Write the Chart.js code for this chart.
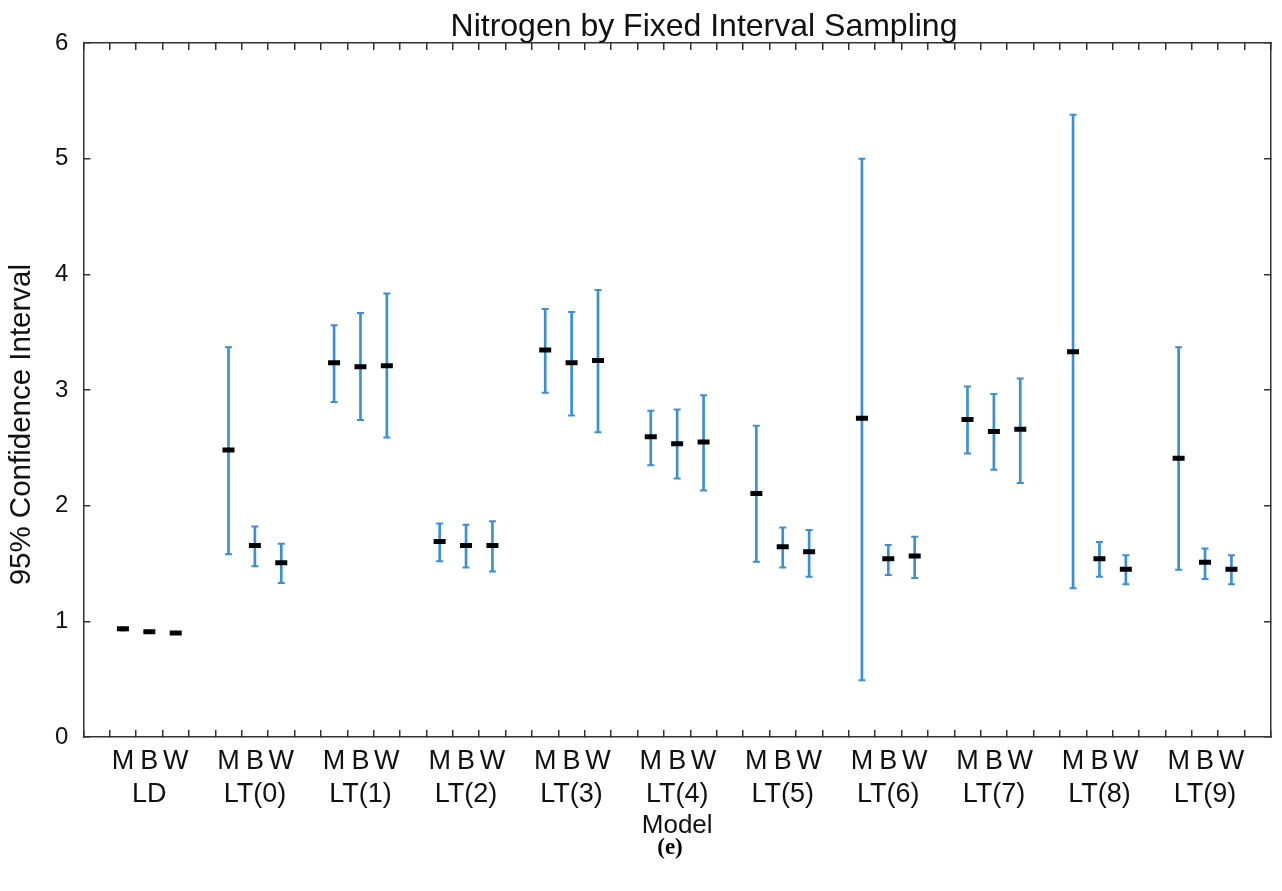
<!DOCTYPE html>
<html>
<head>
<meta charset="utf-8">
<script src="https://cdn.jsdelivr.net/npm/chart.js@4.4.1/dist/chart.umd.min.js"></script>
<style>
  body { margin: 0; background: #fff; }
  #wrap { width: 1282px; height: 891px; }
</style>
</head>
<body>
<div id="wrap"><canvas id="grafico"></canvas></div>
<script>
// grupos del eje x y modelos dentro de cada grupo
const grupos = ['LD', 'LT(0)', 'LT(1)', 'LT(2)', 'LT(3)', 'LT(4)', 'LT(5)', 'LT(6)', 'LT(7)', 'LT(8)', 'LT(9)'];
const modelos = ['M', 'B', 'W'];

// media e intervalo de confianza 95% por modelo
const mediaM = [0.935, 2.48, 3.235, 1.69, 3.345, 2.595, 2.105, 2.755, 2.745, 3.33, 2.41];
const bajoM  = [0.92, 1.58, 2.895, 1.52, 2.975, 2.35, 1.515, 0.49, 2.45, 1.285, 1.445];
const altoM  = [0.945, 3.37, 3.56, 1.845, 3.70, 2.82, 2.69, 5.0, 3.03, 5.38, 3.37];

const mediaB = [0.91, 1.655, 3.20, 1.655, 3.235, 2.535, 1.645, 1.54, 2.64, 1.54, 1.51];
const bajoB  = [0.905, 1.475, 2.74, 1.465, 2.78, 2.235, 1.465, 1.40, 2.31, 1.385, 1.365];
const altoB  = [0.915, 1.82, 3.665, 1.835, 3.675, 2.83, 1.81, 1.66, 2.965, 1.685, 1.63];

const mediaW = [0.898, 1.505, 3.21, 1.655, 3.255, 2.55, 1.60, 1.565, 2.66, 1.45, 1.45];
const bajoW  = [0.893, 1.33, 2.59, 1.43, 2.635, 2.13, 1.385, 1.375, 2.195, 1.32, 1.32];
const altoW  = [0.903, 1.67, 3.835, 1.865, 3.865, 2.955, 1.79, 1.73, 3.10, 1.57, 1.57];

const yTicks = [0, 1, 2, 3, 4, 5, 6];

const azul = '#3a8fd6';
const gris = '#333';
const fuente = "'Liberation Sans', Arial, sans-serif";

// posicion en el eje: 4 huecos por grupo (M, B, W, espacio)
const posicion = (g, m) => g * 4 + m + 1;

const series = [
    { media: mediaM, bajo: bajoM, alto: altoM },
    { media: mediaB, bajo: bajoB, alto: altoB },
    { media: mediaW, bajo: bajoW, alto: altoW }
];

const barras = [];
const topes = [];
const medias = [];
series.forEach((s, m) => {
    grupos.forEach((g, i) => {
        const x = posicion(i, m);
        barras.push({ x: x, y: [s.bajo[i], s.alto[i]] });
        topes.push({ x: x, y: s.bajo[i] });
        topes.push({ x: x, y: s.alto[i] });
        medias.push({ x: x, y: s.media[i] });
    });
});

// titulos dibujados a mano para ubicarlos como en la figura
const titulos = {
    id: 'titulos',
    afterDraw(chart) {
        const ctx = chart.ctx;
        const area = chart.chartArea;
        ctx.save();
        ctx.fillStyle = '#111';
        ctx.textAlign = 'center';
        ctx.textBaseline = 'middle';
        ctx.font = '32px ' + fuente;
        ctx.fillText('Nitrogen by Fixed Interval Sampling', 704, 27);
        ctx.fillStyle = '#000';
        ctx.font = "bold 23px 'Liberation Serif', 'Times New Roman', serif";
        ctx.fillText('(e)', 670, 848);
        ctx.fillStyle = '#111';
        ctx.translate(22, area.top + (area.bottom - area.top) * 0.55);
        ctx.rotate(-Math.PI / 2);
        ctx.font = '29.5px ' + fuente;
        ctx.fillText('95% Confidence Interval', 0, 0);
        ctx.restore();
    }
};

const gridEje = { drawOnChartArea: false, tickLength: -7, color: gris, lineWidth: 1.5 };
const bordeEje = { color: gris, width: 1.5 };

new Chart(document.getElementById('grafico').getContext('2d'), {
    type: 'bar',
    data: {
        datasets: [
            {
                type: 'line',
                data: medias,
                showLine: false,
                pointStyle: 'line',
                pointRadius: 6,
                pointBorderWidth: 5,
                borderColor: '#000',
                backgroundColor: '#000',
                order: 0
            },
            {
                type: 'line',
                data: topes,
                showLine: false,
                pointStyle: 'line',
                pointRadius: 3.5,
                pointBorderWidth: 2,
                borderColor: azul,
                backgroundColor: azul,
                order: 1
            },
            {
                type: 'bar',
                data: barras,
                backgroundColor: azul,
                borderWidth: 0,
                barThickness: 2,
                order: 2
            }
        ]
    },
    options: {
        responsive: true,
        maintainAspectRatio: false,
        animation: false,
        layout: { padding: { left: 33, right: 6, top: 43, bottom: 50 } },
        plugins: {
            legend: { display: false },
            tooltip: { enabled: false },
            title: { display: false }
        },
        scales: {
            x: {
                type: 'linear',
                min: 0,
                max: 44,
                grid: gridEje,
                border: bordeEje,
                ticks: {
                    stepSize: 1,
                    maxTicksLimit: 100,
                    autoSkip: false,
                    maxRotation: 0,
                    padding: 15,
                    color: '#111',
                    font: { family: fuente, size: 27, lineHeight: 1.22 },
                    callback: (v) => {
                        if (v < 1 || v > 43) return '';
                        const m = (v - 1) % 4;
                        const g = Math.floor((v - 1) / 4);
                        if (m === 3) return '';
                        if (m === 1) return [modelos[1], grupos[g]];
                        return modelos[m];
                    }
                },
                title: {
                    display: true,
                    text: 'Model',
                    color: '#111',
                    font: { family: fuente, size: 26 },
                    padding: { top: -16, bottom: 0 }
                }
            },
            x2: {
                type: 'linear',
                position: 'top',
                min: 0,
                max: 44,
                grid: gridEje,
                border: bordeEje,
                ticks: { display: false, stepSize: 1, maxTicksLimit: 100 },
                afterFit: (s) => { s.height = 0; }
            },
            y: {
                min: 0,
                max: 6,
                grid: gridEje,
                border: bordeEje,
                afterBuildTicks: (s) => { s.ticks = yTicks.map(v => ({ value: v })); },
                ticks: {
                    padding: 22,
                    color: '#111',
                    font: { family: fuente, size: 24 }
                }
            },
            y2: {
                position: 'right',
                min: 0,
                max: 6,
                grid: gridEje,
                border: bordeEje,
                afterBuildTicks: (s) => { s.ticks = yTicks.map(v => ({ value: v })); },
                ticks: { display: false },
                afterFit: (s) => { s.width = 0; }
            }
        }
    },
    plugins: [titulos]
});
</script>
</body>
</html>
